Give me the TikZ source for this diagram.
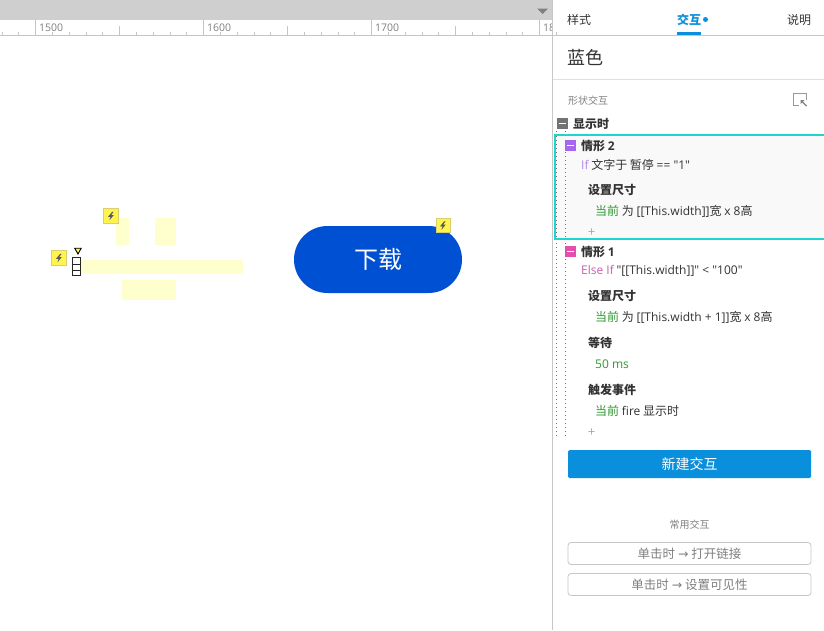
\documentclass[tikz,border=0pt]{standalone}
\usepackage{fontspec}
\setmainfont{Noto Sans CJK SC}
\newfontfamily\lat{Open Sans}
\definecolor{rulergray}{HTML}{CFCFCF}
\definecolor{tick}{HTML}{C4C4C4}
\definecolor{txt}{HTML}{333333}
\definecolor{accent}{HTML}{0A8FDC}
\definecolor{teal}{HTML}{1FD6CF}
\definecolor{pale}{HTML}{FFFFCD}
\definecolor{btnblue}{HTML}{0050D4}
\definecolor{bolt}{HTML}{FFF34D}
\definecolor{okgreen}{HTML}{2E9A2E}
\definecolor{violetbox}{HTML}{A766F0}
\definecolor{pinkbox}{HTML}{E44FAE}
\definecolor{iftxt}{HTML}{B18AE0}
\definecolor{elsetxt}{HTML}{C95FB0}
\definecolor{flagedge}{HTML}{D8D070}
\tikzset{
  x=1pt,y=-1pt,
  lbl/.style={anchor=west,inner sep=0pt,text=txt,font=\fontsize{12}{14}\selectfont},
  bld/.style={lbl,font=\fontsize{12}{14}\selectfont\bfseries},
  rulertxt/.style={anchor=west,inner sep=0pt,text=gray,font=\lat\fontsize{10.5}{12}\selectfont},
  palebox/.style={fill=pale,draw=none},
  minus/.style={minimum size=11pt,inner sep=0pt},
  graybtn/.style={draw=black!22,fill=white,rounded corners=3pt,line width=.8pt},
  plusmark/.style={inner sep=0pt,text=gray!70,font=\lat\fontsize{13}{13}\selectfont},
  flag/.style={draw=flagedge,fill=bolt,minimum size=15pt,inner sep=0pt,line width=.7pt},
  dots/.style={black!55,line width=.8pt,dash pattern=on 1pt off 3pt},
  handle/.style={draw=black!85,fill=white,line width=.8pt},
}
\newcommand{\boltin}[1]{\fill[black!65] ([shift={(1.2,-4.2)}]#1.center) -- ([shift={(-3,.8)}]#1.center) -- ([shift={(-.4,.8)}]#1.center) -- ([shift={(-1.6,4.4)}]#1.center) -- ([shift={(2.8,-1)}]#1.center) -- ([shift={(.2,-1)}]#1.center) -- ([shift={(2.6,-4.2)}]#1.center) -- cycle;}
\newcommand{\dashin}[1]{\fill[white] ([shift={(-3.5,-.8)}]#1.center) rectangle ([shift={(3.5,.8)}]#1.center);}
\begin{document}
\begin{tikzpicture}
\useasboundingbox (0,0) rectangle (824,630);
\fill[white] (0,0) rectangle (824,630);
% ruler
\fill[rulergray] (0,0) rectangle (552,20);
\fill[black!50] (537,8.5) -- (548,8.5) -- (542.5,14) -- cycle;
\draw[tick,line width=.7pt] (0,35.5) -- (552,35.5);
\foreach \m in {0,...,33}{
  \pgfmathsetmacro{\xx}{1.9+16.8*\m}
  \draw[tick,line width=.7pt] (\xx,32) -- (\xx,35.5);
}
\foreach \xx in {119.5,287.5,455.5}{\draw[tick,line width=.7pt] (\xx,26) -- (\xx,35.5);}
\foreach \xx in {35.5,203.5,371.5,539.5}{\draw[tick,line width=.7pt] (\xx,20) -- (\xx,35.5);}
\node[rulertxt] (r1) at (39,28) {1500};
\node[rulertxt] (r2) at (207,28) {1600};
\node[rulertxt] (r3) at (375,28) {1700};
\begin{scope}
\clip (0,20) rectangle (552,36);
\node[rulertxt] (r4) at (543,28) {1800};
\end{scope}
% canvas
\fill[palebox] (116,218) rectangle (129,245);
\fill[palebox] (155,218) rectangle (176,245);
\fill[palebox] (81,260) rectangle (243,274);
\fill[palebox] (122,280) rectangle (176,300);
\node[flag] (f1) at (111,216) {};
\boltin{f1}
\node[flag] (f2) at (59,258) {};
\boltin{f2}
\fill[bolt,draw=black,line width=.9pt] (74.7,248.2) -- (81.2,248.2) -- (78,254) -- cycle;
\draw[handle] (72.5,257.5) rectangle (80.5,264.5);
\draw[handle] (72.5,264.5) rectangle (80.5,270.5);
\draw[handle] (72.5,270.5) rectangle (80.5,275.5);
\node[fill=btnblue,rounded corners=33.5pt,minimum width=168pt,minimum height=67pt,inner sep=0pt,text=white,font=\fontsize{24}{26}\selectfont] (dl) at (378,259.5) {下载};
\node[flag,minimum size=14pt] (f3) at (443,225.5) {};
\boltin{f3}
% panel
\draw[black!22,line width=.9pt] (552.5,0) -- (552.5,630);
\draw[black!22,line width=.8pt] (553,35.5) -- (824,35.5);
\draw[black!12,line width=.8pt] (553,79.5) -- (824,79.5);
\node[lbl,font=\fontsize{12}{14}\selectfont] (t1) at (567,20) {样式};
\node[lbl,text=accent,font=\fontsize{12}{14}\selectfont\bfseries] (t2) at (677,20) {交互};
\fill[accent] (705.5,19.5) circle (2.5);
\fill[accent] (677,32) rectangle (701,35);
\node[lbl,font=\fontsize{12}{14}\selectfont] (t3) at (787,20) {说明};
\node[lbl,font=\fontsize{18}{20}\selectfont] (title) at (567,57.5) {蓝色};
\node[lbl,text=gray,font=\fontsize{10}{12}\selectfont] (sec) at (568,100.5) {形状交互};
\draw[black!40,line width=.8pt] (806.5,100) -- (806.5,93.5) -- (793.5,93.5) -- (793.5,105.5) -- (798.5,105.5);
\draw[black!50,line width=1.4pt] (801.5,101) -- (806.5,106);
\fill[black!50] (800.5,100) -- (804.5,100) -- (800.5,104) -- cycle;
\node[minus,fill=black!55] (m0) at (562.5,123.5) {};
\dashin{m0}
\node[bld] (ev) at (573,124) {显示时};
\draw[dots] (556.5,131) -- (556.5,437);
\draw[dots] (565.5,131) -- (565.5,437);
% case 2
\fill[black!2.5] (554,135) rectangle (824,238.5);
\draw[dots] (556.5,136) -- (556.5,238);
\draw[dots] (565.5,152) -- (565.5,238);
\draw[teal,line width=2pt] (824,135) -- (554.5,135) -- (554.5,238.5) -- (824,238.5);
\node[minus,fill=violetbox] (m2) at (570.5,145.5) {};
\dashin{m2}
\node[bld] (c2) at (581,146) {情形 {\lat 2}};
\node[lbl] (c2a) at (581,165) {{\lat\color{iftxt}If} 文字于 暂停 {\lat == "1"}};
\node[bld] (c2b) at (588,190) {设置尺寸};
\node[lbl] (c2c) at (595,211.6) {{\color{okgreen}当前} 为 {\lat [[This.width]]}宽 {\lat x 8}高};
\node[plusmark] (p2) at (591.5,233) {+};
% case 1
\node[minus,fill=pinkbox] (m1) at (570.5,251.5) {};
\dashin{m1}
\node[bld] (c1) at (581,252) {情形 {\lat 1}};
\node[lbl] (c1a) at (581,271) {{\lat\color{elsetxt}Else If} {\lat "[[This.width]]" < "100"}};
\node[bld] (c1b) at (588,296) {设置尺寸};
\node[lbl] (c1c) at (595,317.6) {{\color{okgreen}当前} 为 {\lat [[This.width + 1]]}宽 {\lat x 8}高};
\node[bld] (c1d) at (588,343) {等待};
\node[lbl,text=okgreen] (c1e) at (595,364) {\lat 50 ms};
\node[bld] (c1f) at (588,390) {触发事件};
\node[lbl] (c1g) at (595,411) {{\color{okgreen}当前} {\lat fire} 显示时};
\node[plusmark] (p1) at (591.5,433) {+};
% buttons
\node[fill=accent,rounded corners=1.5pt,minimum width=243pt,minimum height=28pt,inner sep=0pt,text=white,font=\fontsize{14}{16}\selectfont] (new) at (689.5,464) {新建交互};
\node[text=gray,inner sep=0pt,font=\fontsize{10}{12}\selectfont] (common) at (689.5,524.5) {常用交互};
\node[graybtn,minimum width=243pt,minimum height=22pt,inner sep=0pt,text=gray,font=\fontsize{12.5}{14}\selectfont] (b1) at (689.5,553.5) {单击时 {\fontspec{DejaVu Sans}→} 打开链接};
\node[graybtn,minimum width=243pt,minimum height=22pt,inner sep=0pt,text=gray,font=\fontsize{12.5}{14}\selectfont] (b2) at (689.5,584.5) {单击时 {\fontspec{DejaVu Sans}→} 设置可见性};
\end{tikzpicture}
\end{document}
